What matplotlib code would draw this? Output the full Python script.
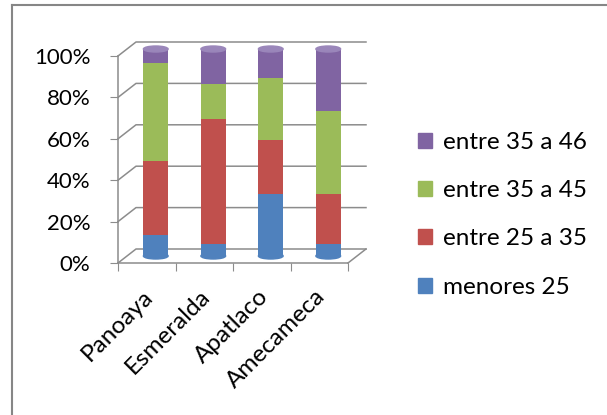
import matplotlib
matplotlib.use("Agg")
import matplotlib.pyplot as plt
from matplotlib.patches import Ellipse, Patch
from matplotlib.lines import Line2D
import numpy as np

plt.rcParams['font.family'] = ['Lato', 'DejaVu Sans']

categories = ["Panoaya", "Esmeralda", "Apatlaco", "Amecameca"]
series = ["menores 25", "entre 25 a 35", "entre 35 a 45", "entre 35 a 46"]
menores_25 = [10, 6, 30, 6]
entre_25_35 = [36, 60, 26, 24]
entre_35_45 = [47, 17, 30, 40]
entre_35_46 = [7, 17, 14, 30]
values = [menores_25, entre_25_35, entre_35_45, entre_35_46]
colors = ["#4F81BD", "#C0504D", "#9BBB59", "#8064A2"]
yticks = [0, 20, 40, 60, 80, 100]

W, H = 607, 415
fig = plt.figure(figsize=(W / 100, H / 100), dpi=100)
# plot box in pixels: x 118..348, y 56..263 (from top)
ax = fig.add_axes([118 / W, (H - 263) / H, 230 / W, 207 / H])
ax.set_xlim(0, 4)
ax.set_ylim(0, 100)
for s in ax.spines.values():
    s.set_visible(False)

grid = "#8c8c8c"
px_x = 4 / 230      # data units per pixel
px_y = 100 / 207
dx, dy = 18 * px_x, 14 * px_y      # depth of the 3d box

# floor + back wall gridlines
for y in yticks:
    ax.plot([0, dx, 4 + dx], [y, y + dy, y + dy], color=grid, lw=1.1, clip_on=False, zorder=1)
ax.plot([4, 4 + dx], [0, dy], color=grid, lw=1.1, clip_on=False, zorder=1)
ax.plot([0, 0], [0, 100], color=grid, lw=1.1, clip_on=False, zorder=1)
ax.plot([0, 4], [0, 0], color=grid, lw=1.1, clip_on=False, zorder=4)

# cylinders
x = np.arange(len(categories)) + 0.5 + dx / 2
bw = 0.43
eh = 6 * px_y
bottom = np.full(len(categories), dy / 2)
for vals, c in zip(values, colors):
    ax.bar(x, vals, bw, bottom=bottom, color=c, edgecolor="none", clip_on=False, zorder=3)
    bottom = bottom + np.array(vals)
for xi in x:
    ax.add_patch(Ellipse((xi, dy / 2), bw, eh, color=colors[0], clip_on=False, zorder=3))
    ax.add_patch(Ellipse((xi, bottom[0]), bw, eh, color="#9A86BA", clip_on=False, zorder=3))

ax.set_yticks(yticks)
ax.set_yticklabels([f"{t}%" for t in yticks], fontsize=16)
ax.set_xticks(range(5))
ax.set_xticklabels([])
ax.tick_params(axis="y", length=6, color=grid, pad=14)
ax.tick_params(axis="x", length=6, color=grid)

for i, name in enumerate(categories):
    ax.text(i + 0.42, -11, name, rotation=45, ha="right", va="top",
            rotation_mode="anchor", fontsize=17.5)

handles = [Patch(color=c, label=s) for c, s in zip(colors, series)][::-1]
fig.legend(handles=handles, loc="upper left", bbox_to_anchor=(418 / W, 1 - 132 / H),
           frameon=False, fontsize=17.5, handlelength=0.58, handleheight=0.58,
           handletextpad=0.45, labelspacing=1.12, borderpad=0, borderaxespad=0)

# outer chart frame (only left and top are visible in the crop)
fig.add_artist(Line2D([12 / W, 12 / W], [0, 1 - 5 / H], color="#868686", lw=1.5))
fig.add_artist(Line2D([12 / W, 1], [1 - 5 / H, 1 - 5 / H], color="#868686", lw=1.5))

fig.savefig("out.png", dpi=100)
